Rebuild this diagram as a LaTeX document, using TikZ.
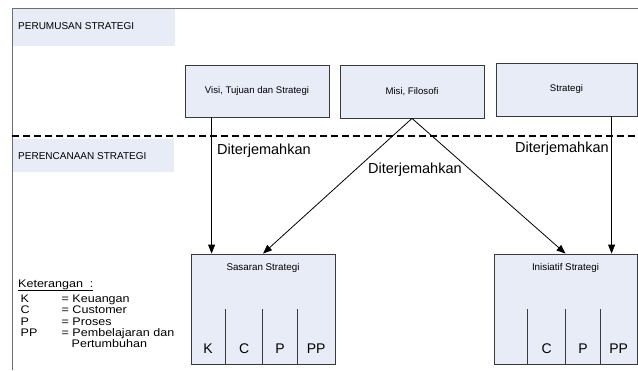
\documentclass[tikz,border=0pt]{standalone}
\usepackage{fontspec}
\setmainfont{Liberation Sans}
\usetikzlibrary{arrows.meta,calc}
\definecolor{boxfill}{HTML}{E7ECF7}
\definecolor{framegray}{HTML}{6E6E6E}
\definecolor{edgegray}{HTML}{3A3A3A}
% legend text is set a little wider than its natural shape
\newcommand{\widetext}[1]{\scalebox{1.14}[1]{#1}}

\begin{document}
\begin{tikzpicture}[x=1pt,y=-1pt,
  box/.style={draw=edgegray, line width=0.8pt, fill=boxfill, inner sep=0pt,
              font=\fontsize{9.6}{11}\selectfont},
  secbox/.style={fill=boxfill, inner sep=0pt, anchor=north west},
  sectext/.style={inner sep=0pt, anchor=base west, font=\fontsize{10}{12}\selectfont},
  lbl/.style={inner sep=0pt, anchor=base, font=\fontsize{9.8}{11}\selectfont},
  trans/.style={inner sep=0pt, anchor=base west, font=\fontsize{14.5}{16}\selectfont},
  letter/.style={inner sep=0pt, anchor=base, font=\fontsize{14}{16}\selectfont},
  legend/.style={inner sep=0pt, anchor=base west, font=\fontsize{11}{13}\selectfont},
  arr/.style={draw=black, line width=0.8pt, -{Triangle[length=9pt,width=7pt]}},
  divider/.style={draw=edgegray, line width=0.8pt},
  dashline/.style={draw=black, line width=1.4pt, dash pattern=on 7pt off 4pt}]

\useasboundingbox (0,0) rectangle (638,370);

% outer frame (only top and left edges are visible)
\draw[framegray, line width=1pt] (12,370) -- (12,8) -- (638,8);

% section headers
\node[secbox, minimum width=162, minimum height=37] (perumusan) at (13,9) {};
\node[sectext] (perumusanT) at (18,29.5) {PERUMUSAN STRATEGI};
\node[secbox, minimum width=161, minimum height=33] (perencanaan) at (13,139) {};
\node[sectext] (perencanaanT) at (18,159.5) {PERENCANAAN STRATEGI};

% boundary between formulation and planning
\draw[dashline] (12,136) -- (638,136);

% formulation boxes
\node[box, minimum width=144, minimum height=52] (visi) at (257,91) {Visi, Tujuan dan Strategi};
\node[box, minimum width=144, minimum height=53] (misi) at (412,91.5) {Misi, Filosofi};
\node[box, minimum width=141, minimum height=53] (strat) at (566.5,89.5) {Strategi};

% planning boxes
\node[box, minimum width=144, minimum height=110] (sas) at (263,309) {};
\node[lbl] (sasT) at (263,270.5) {Sasaran Strategi};
\node[box, minimum width=143, minimum height=110] (ini) at (565.5,309) {};
\node[lbl] (iniT) at (565.5,270.5) {Inisiatif Strategi};

% perspective compartments of Sasaran Strategi
\foreach \dx in {35,72,107}
  \draw[divider] ($(sas.south west)+(\dx,0)$) -- ++(0,-55);
\node[letter] (sasK)  at ($(sas.south west)+(17.5,-10.5)$) {K};
\node[letter] (sasC)  at ($(sas.south west)+(53.5,-10.5)$) {C};
\node[letter] (sasP)  at ($(sas.south west)+(89.5,-10.5)$) {P};
\node[letter] (sasPP) at ($(sas.south west)+(125.5,-10.5)$) {PP};

% perspective compartments of Inisiatif Strategi
\foreach \dx in {34,72,107}
  \draw[divider] ($(ini.south west)+(\dx,0)$) -- ++(0,-55);
\node[letter] (iniC)  at ($(ini.south west)+(53,-10.5)$) {C};
\node[letter] (iniP)  at ($(ini.south west)+(89.5,-10.5)$) {P};
\node[letter] (iniPP) at ($(ini.south west)+(125,-10.5)$) {PP};

% translation arrows
\draw[arr] ($(visi.south west)+(27,0)$) -- ($(sas.north west)+(21,0)$);
\draw[arr] (misi.south) -- (sas.north);
\draw[arr] (misi.south) -- (ini.north);
\draw[arr] ($(strat.south west)+(116,0)$) -- ($(ini.north west)+(118,0)$);

\node[trans] (tr1) at (217,154) {Diterjemahkan};
\node[trans] (tr2) at (368,173) {Diterjemahkan};
\node[trans] (tr3) at (515,152.7) {Diterjemahkan};

% legend
\node[legend] (legT) at (18,287) {\widetext{\underline{Keterangan\ \ :}}};
\node[legend] (legK)  at (20.5,302)   {\widetext{K}};
\node[legend] (legKd) at (61.5,302)   {\widetext{= Keuangan}};
\node[legend] (legC)  at (20.5,313.5) {\widetext{C}};
\node[legend] (legCd) at (61.5,313.5) {\widetext{= Customer}};
\node[legend] (legP)  at (20.5,325)   {\widetext{P}};
\node[legend] (legPd) at (61.5,325)   {\widetext{= Proses}};
\node[legend] (legPP) at (20.5,336)   {\widetext{PP}};
\node[legend] (legPPd) at (61.5,336)  {\widetext{= Pembelajaran dan}};
\node[legend] (legPP2) at (71.5,347.3) {\widetext{Pertumbuhan}};

\end{tikzpicture}
\end{document}
